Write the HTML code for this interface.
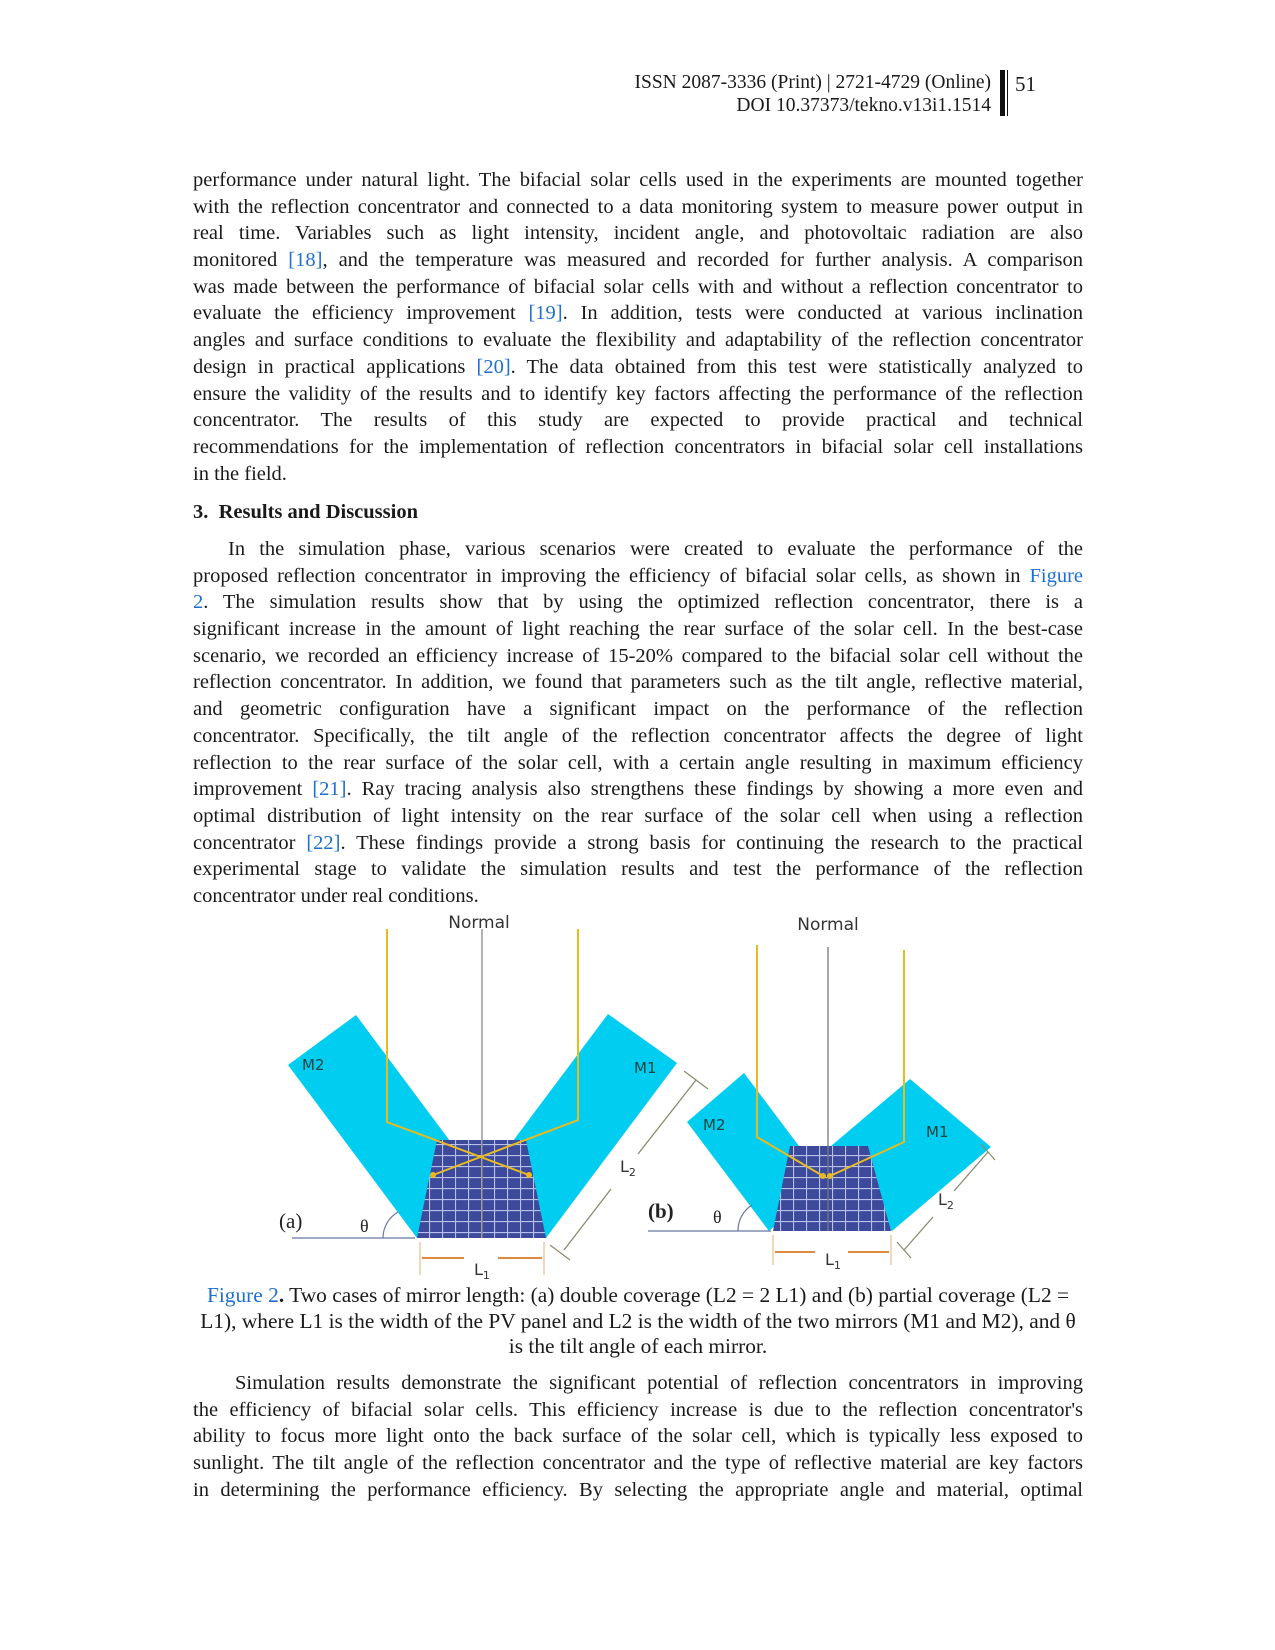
<!DOCTYPE html>
<html><head><meta charset="utf-8"><style>
body{margin:0;background:#fff;}
#pg{position:relative;width:1275px;height:1650px;background:#fff;font-family:"Liberation Serif",serif;color:#1a1a1a;}
.p{position:absolute;left:193px;width:890px;font-size:20.5px;line-height:26.7px;}
.p div{height:26.7px;text-align:justify;text-align-last:justify;white-space:nowrap;}
.p div.e{text-align-last:left;}
.a{color:#1f6fd0;}
.hd{position:absolute;font-size:19.5px;text-align:right;}
.c{font-size:21.4px;}
.c div{text-align:center;text-align-last:center;height:25.5px;}
</style></head><body><div id="pg">
<div class="hd" style="right:284px;top:71px;line-height:23px;">ISSN 2087-3336 (Print) | 2721-4729 (Online)<br>DOI 10.37373/tekno.v13i1.1514</div>
<div style="position:absolute;left:1000px;top:70px;width:5px;height:46px;background:#111"></div>
<div style="position:absolute;left:1007px;top:70px;width:1px;height:46px;background:#111"></div>
<div style="position:absolute;left:1015px;top:72px;font-size:21px;">51</div>

<div class="p" style="top:167px;">
<div>performance under natural light. The bifacial solar cells used in the experiments are mounted together</div>
<div>with the reflection concentrator and connected to a data monitoring system to measure power output in</div>
<div>real time. Variables such as light intensity, incident angle, and photovoltaic radiation are also</div>
<div>monitored <span class="a">[18]</span>, and the temperature was measured and recorded for further analysis. A comparison</div>
<div>was made between the performance of bifacial solar cells with and without a reflection concentrator to</div>
<div>evaluate the efficiency improvement <span class="a">[19]</span>. In addition, tests were conducted at various inclination</div>
<div>angles and surface conditions to evaluate the flexibility and adaptability of the reflection concentrator</div>
<div>design in practical applications <span class="a">[20]</span>. The data obtained from this test were statistically analyzed to</div>
<div>ensure the validity of the results and to identify key factors affecting the performance of the reflection</div>
<div>concentrator. The results of this study are expected to provide practical and technical</div>
<div>recommendations for the implementation of reflection concentrators in bifacial solar cell installations</div>
<div class="e">in the field.</div>
</div>
<div class="p" style="top:499px;font-weight:bold;"><div class="e">3.&nbsp; Results and Discussion</div></div>
<div class="p" style="top:536px;">
<div style="padding-left:35px;">In the simulation phase, various scenarios were created to evaluate the performance of the</div>
<div>proposed reflection concentrator in improving the efficiency of bifacial solar cells, as shown in <span class="a">Figure</span></div>
<div><span class="a">2</span>. The simulation results show that by using the optimized reflection concentrator, there is a</div>
<div>significant increase in the amount of light reaching the rear surface of the solar cell. In the best-case</div>
<div>scenario, we recorded an efficiency increase of 15-20% compared to the bifacial solar cell without the</div>
<div>reflection concentrator. In addition, we found that parameters such as the tilt angle, reflective material,</div>
<div>and geometric configuration have a significant impact on the performance of the reflection</div>
<div>concentrator. Specifically, the tilt angle of the reflection concentrator affects the degree of light</div>
<div>reflection to the rear surface of the solar cell, with a certain angle resulting in maximum efficiency</div>
<div>improvement <span class="a">[21]</span>. Ray tracing analysis also strengthens these findings by showing a more even and</div>
<div>optimal distribution of light intensity on the rear surface of the solar cell when using a reflection</div>
<div>concentrator <span class="a">[22]</span>. These findings provide a strong basis for continuing the research to the practical</div>
<div>experimental stage to validate the simulation results and test the performance of the reflection</div>
<div class="e">concentrator under real conditions.</div>
</div>

<svg style="position:absolute;left:0;top:0" width="1275" height="1650" font-family="'DejaVu Sans',sans-serif">
<defs>
<pattern id="g" width="13" height="11" patternUnits="userSpaceOnUse"><rect width="13" height="11" fill="#3d4a9c"/><path d="M0 0.5H13M0.5 0V11" stroke="#b8c0ea" stroke-width="1.2"/></pattern>
</defs>
<polygon points="356,1015 288,1065 417,1238 485,1188" fill="#00cdf0"/>
<polygon points="608,1014 677,1063 546,1238 477,1189" fill="#00cdf0"/>
<polygon points="437,1140 526,1140 546,1238 417,1238" fill="url(#g)"/>
<line x1="482" y1="929" x2="482" y2="1238" stroke="#888" stroke-width="1.3"/>
<polyline points="387,929 387,1122 529,1175" fill="none" stroke="#e8bb20" stroke-width="2"/>
<polyline points="578,929 578,1120 433,1175" fill="none" stroke="#e8bb20" stroke-width="2"/>
<circle cx="529" cy="1175" r="3" fill="#e8bb20"/><circle cx="433" cy="1175" r="3" fill="#e8bb20"/>
<text x="479" y="928" font-size="17" text-anchor="middle" fill="#333">Normal</text>
<text x="302" y="1070" font-size="15" fill="#244">M2</text>
<text x="634" y="1073" font-size="15" fill="#244">M1</text>
<line x1="292" y1="1238" x2="415" y2="1238" stroke="#6878a0" stroke-width="1.2"/>
<path d="M383 1238 A30 30 0 0 1 398 1212" fill="none" stroke="#6878a0" stroke-width="1.2"/>
<text x="279" y="1228" font-family="'Liberation Serif',serif" font-size="21" fill="#222">(a)</text>
<text x="360" y="1232" font-family="'Liberation Serif',serif" font-size="18" fill="#222">θ</text>
<line x1="420" y1="1242" x2="420" y2="1275" stroke="#f0c8a0" stroke-width="1.5"/>
<line x1="544" y1="1242" x2="544" y2="1275" stroke="#f0c8a0" stroke-width="1.5"/>
<line x1="422" y1="1258" x2="464" y2="1258" stroke="#e08a40" stroke-width="2"/>
<line x1="498" y1="1258" x2="542" y2="1258" stroke="#e08a40" stroke-width="2"/>
<text x="474" y="1275" font-size="16" fill="#333">L<tspan font-size="11" dy="4">1</tspan></text>
<line x1="684" y1="1071" x2="708" y2="1089" stroke="#8a8a70" stroke-width="1.2"/>
<line x1="696" y1="1080" x2="638" y2="1154" stroke="#8a8a70" stroke-width="1.3"/>
<line x1="611" y1="1189" x2="564" y2="1250" stroke="#8a8a70" stroke-width="1.3"/>
<line x1="550" y1="1245" x2="570" y2="1260" stroke="#8a8a70" stroke-width="1.2"/>
<text x="620" y="1172" font-size="16" fill="#333">L<tspan font-size="11" dy="4">2</tspan></text>
<polygon points="744,1073 687,1122 769,1231 826,1182" fill="#00cdf0"/>
<polygon points="910,1079 991,1147 892,1231 811,1163" fill="#00cdf0"/>
<polygon points="790,1146 868,1146 891,1231 773,1231" fill="url(#g)"/>
<line x1="828" y1="947" x2="828" y2="1231" stroke="#777" stroke-width="1.3"/>
<polyline points="757,945 757,1137 823,1176" fill="none" stroke="#e8bb20" stroke-width="2"/>
<polyline points="904,950 904,1142 830,1176" fill="none" stroke="#e8bb20" stroke-width="2"/>
<circle cx="823" cy="1176" r="3" fill="#e8bb20"/><circle cx="830" cy="1176" r="3" fill="#e8bb20"/>
<text x="828" y="930" font-size="17" text-anchor="middle" fill="#333">Normal</text>
<text x="703" y="1130" font-size="15" fill="#244">M2</text>
<text x="926" y="1137" font-size="15" fill="#244">M1</text>
<line x1="648" y1="1231" x2="771" y2="1231" stroke="#6878a0" stroke-width="1.2"/>
<path d="M738 1231 A30 30 0 0 1 752 1205" fill="none" stroke="#6878a0" stroke-width="1.2"/>
<text x="648" y="1218" font-family="'Liberation Serif',serif" font-size="21" font-weight="bold" fill="#222">(b)</text>
<text x="713" y="1223" font-family="'Liberation Serif',serif" font-size="18" fill="#222">θ</text>
<line x1="773" y1="1235" x2="773" y2="1265" stroke="#f0c8a0" stroke-width="1.5"/>
<line x1="891" y1="1235" x2="891" y2="1265" stroke="#f0c8a0" stroke-width="1.5"/>
<line x1="775" y1="1252" x2="815" y2="1252" stroke="#e08a40" stroke-width="2"/>
<line x1="848" y1="1252" x2="889" y2="1252" stroke="#e08a40" stroke-width="2"/>
<text x="825" y="1265" font-size="16" fill="#333">L<tspan font-size="11" dy="4">1</tspan></text>
<line x1="981" y1="1144" x2="995" y2="1160" stroke="#8a8a70" stroke-width="1.2"/>
<line x1="988" y1="1152" x2="954" y2="1191" stroke="#8a8a70" stroke-width="1.3"/>
<line x1="933" y1="1217" x2="904" y2="1250" stroke="#8a8a70" stroke-width="1.3"/>
<line x1="897" y1="1242" x2="911" y2="1258" stroke="#8a8a70" stroke-width="1.2"/>
<text x="938" y="1205" font-size="16" fill="#333">L<tspan font-size="11" dy="4">2</tspan></text>
</svg>

<div class="p c" style="top:1283px;left:190px;width:896px;line-height:25.5px;">
<div><span class="a">Figure 2</span><b>.</b> Two cases of mirror length: (a) double coverage (L2 = 2 L1) and (b) partial coverage (L2 =</div>
<div>L1), where L1 is the width of the PV panel and L2 is the width of the two mirrors (M1 and M2), and θ</div>
<div>is the tilt angle of each mirror.</div>
</div>
<div class="p" style="top:1370px;">
<div style="padding-left:42px;">Simulation results demonstrate the significant potential of reflection concentrators in improving</div>
<div>the efficiency of bifacial solar cells. This efficiency increase is due to the reflection concentrator's</div>
<div>ability to focus more light onto the back surface of the solar cell, which is typically less exposed to</div>
<div>sunlight. The tilt angle of the reflection concentrator and the type of reflective material are key factors</div>
<div>in determining the performance efficiency. By selecting the appropriate angle and material, optimal</div>
</div>
</div></body></html>
